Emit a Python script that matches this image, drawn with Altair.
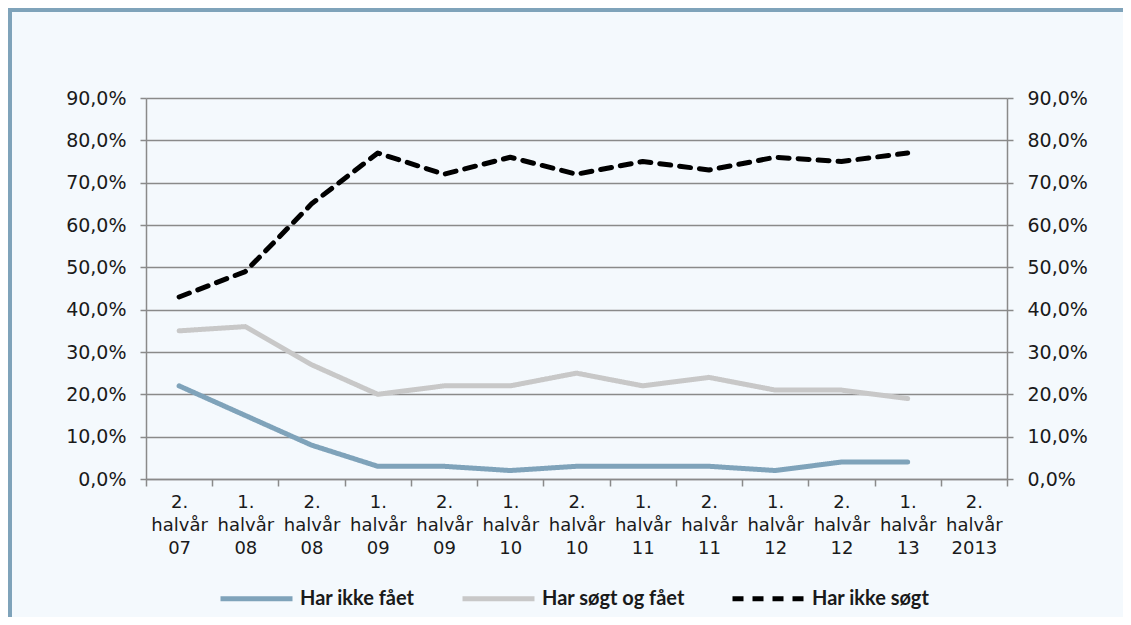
import altair as alt
import pandas as pd

categories = ["2. halvår 07", "1. halvår 08", "2. halvår 08", "1. halvår 09",
              "2. halvår 09", "1. halvår 10", "2. halvår 10", "1. halvår 11",
              "2. halvår 11", "1. halvår 12", "2. halvår 12", "1. halvår 13",
              "2. halvår 2013"]
series = ["Har ikke fået", "Har søgt og fået", "Har ikke søgt"]
har_ikke_faet = [22, 15, 8, 3, 3, 2, 3, 3, 3, 2, 4, 4, None]
har_sogt_og_faet = [35, 36, 27, 20, 22, 22, 25, 22, 24, 21, 21, 19, None]
har_ikke_sogt = [43, 49, 65, 77, 72, 76, 72, 75, 73, 76, 75, 77, None]
y_ticks = [0, 10, 20, 30, 40, 50, 60, 70, 80, 90]
colors = ["#7FA3BA", "#C8C8C8", "#000000"]
dashes = [[1, 0], [1, 0], [11, 9]]

rows = []
for s, vals in zip(series, [har_ikke_faet, har_sogt_og_faet, har_ikke_sogt]):
    for c, v in zip(categories, vals):
        if v is not None:
            rows.append({"kategori": c, "serie": s, "andel": v})
df = pd.DataFrame(rows)

W, H = 861, 381
PAD = {"left": 138, "top": 90, "right": 116, "bottom": 138}
AX = "#8A8A8A"
TXT = "#1A1A1A"
FONT = "DejaVu Sans"
label_expr = "replace(format(datum.value, '.1f'), '.', ',') + '%'"

x_enc = alt.X(
    "kategori:N",
    sort=categories,
    scale=alt.Scale(type="band", domain=categories, paddingInner=0, paddingOuter=0),
    axis=alt.Axis(title=None, labelAngle=0, labelExpr="split(datum.label, ' ')",
                  tickBand="extent", tickSize=7, tickColor=AX, tickWidth=1.5,
                  domainColor=AX, domainWidth=1.5, labelFont=FONT,
                  labelFontSize=18, labelColor=TXT, labelLineHeight=23,
                  labelPadding=7, grid=False),
)

legend_cfg = dict(title=None, orient="none", legendX=72, legendY=462,
                  direction="horizontal", symbolType="stroke", symbolSize=5184,
                  symbolStrokeWidth=5, labelFont="Lato", labelFontWeight="bold",
                  labelFontSize=20, labelColor=TXT, columnPadding=37,
                  labelOffset=5)

lines = alt.Chart(df).mark_line(strokeWidth=5, strokeCap="round", strokeJoin="round").encode(
    x=x_enc,
    y=alt.Y("andel:Q", scale=alt.Scale(domain=[0, 90], nice=False),
            axis=alt.Axis(title=None, values=y_ticks, labelExpr=label_expr,
                          grid=True, gridColor=AX, gridWidth=1.5,
                          domainColor=AX, domainWidth=1.5, tickColor=AX,
                          tickWidth=1.5, tickSize=6, labelPadding=14,
                          labelFont=FONT, labelFontSize=19, labelColor=TXT,
                          orient="left")),
    color=alt.Color("serie:N", scale=alt.Scale(domain=series, range=colors),
                    legend=alt.Legend(**legend_cfg)),
    strokeDash=alt.StrokeDash("serie:N", scale=alt.Scale(domain=series, range=dashes),
                              legend=alt.Legend(**legend_cfg)),
    order=alt.Order("kategori_idx:Q"),
).transform_calculate(
    kategori_idx="indexof(" + str(categories).replace("'", '"') + ", datum.kategori)"
)

right = alt.Chart(df).mark_line(opacity=0).encode(
    x=x_enc,
    y=alt.Y("andel:Q", scale=alt.Scale(domain=[0, 90], nice=False),
            axis=alt.Axis(title=None, values=y_ticks, labelExpr=label_expr,
                          grid=False, domainColor=AX, domainWidth=1.5,
                          tickColor=AX, tickWidth=1.5, tickSize=6,
                          labelPadding=14, labelFont=FONT, labelFontSize=19,
                          labelColor=TXT, orient="right")),
    detail="serie:N",
)

frame_src = pd.DataFrame({"a": [0]})
top_bar = alt.Chart(frame_src).mark_rect(color="#7FA3BA").encode(
    x=alt.value(-PAD["left"]), x2=alt.value(W + PAD["right"]),
    y=alt.value(-PAD["top"]), y2=alt.value(-PAD["top"] + 4),
)
left_bar = alt.Chart(frame_src).mark_rect(color="#7FA3BA").encode(
    x=alt.value(-PAD["left"]), x2=alt.value(-PAD["left"] + 4),
    y=alt.value(-PAD["top"]), y2=alt.value(H + PAD["bottom"]),
)

chart = alt.layer(top_bar, left_bar, lines, right).resolve_scale(
    y="independent"
).properties(
    width=W, height=H,
    autosize=alt.AutoSizeParams(type="none"),
    padding=PAD,
    background="#F4F9FD",
).configure_view(stroke=None)

chart.save("out.html", embed_options={"renderer": "svg", "actions": False})
